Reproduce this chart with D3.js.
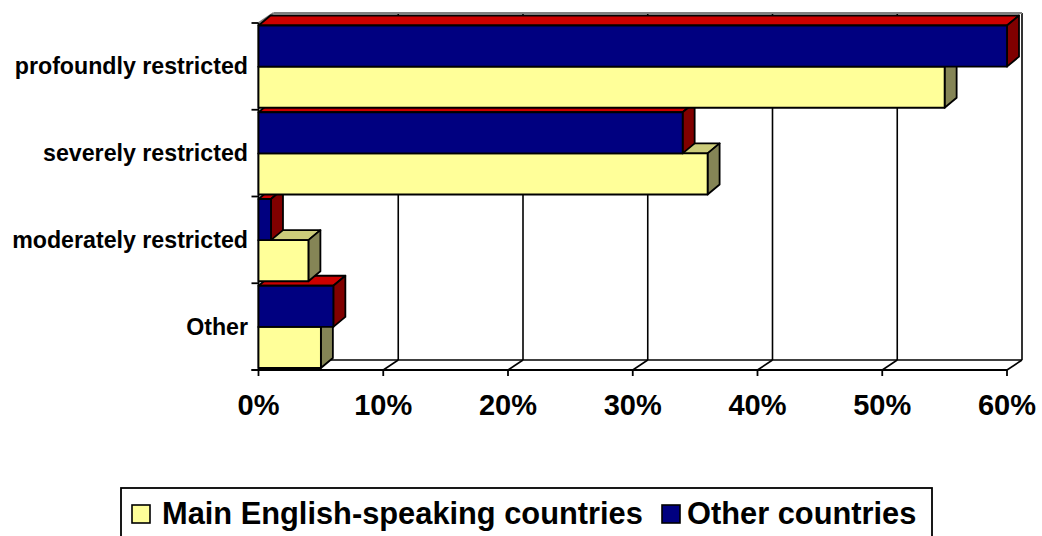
<!DOCTYPE html>
<html>
<head>
<meta charset="utf-8">
<script src="https://cdn.jsdelivr.net/npm/d3@7"></script>
<style>
  html, body { margin: 0; padding: 0; background: #fff; }
  svg { display: block; font-family: "Liberation Sans", Arial, sans-serif; font-weight: bold; }
</style>
</head>
<body>
<svg id="chart" width="1042" height="536"></svg>
<script>
// Categories, top to bottom
const categories = ["profoundly restricted", "severely restricted", "moderately restricted", "Other"];
// Share of respondents per category (fractions)
const mainEnglish = [0.55, 0.36, 0.04, 0.05];
const otherCountries = [0.60, 0.34, 0.01, 0.06];
const seriesNames = ["Other countries", "Main English-speaking countries"];
const xTicks = [0, 0.1, 0.2, 0.3, 0.4, 0.5, 0.6];

(function () {
const svg = d3.select("#chart");

// Front plane of the 3D plot box
const plotLeft = 258.5, plotRight = 1007, plotTop = 23, plotBottom = 370;
// Wall depth offset and bar depth offset
const wdx = 15, wdy = -10;
const bdx = 12, bdy = -10;

const x = d3.scaleLinear().domain([0, 0.6]).range([plotLeft, plotRight]);
const y = d3.scaleBand().domain(categories).range([plotTop, plotBottom]);

const series = [
  { name: seriesNames[0], values: otherCountries, front: "#000080", topFace: "#cc0000", side: "#800000" },
  { name: seriesNames[1], values: mainEnglish, front: "#ffff99", topFace: "#cccc7a", side: "#858556" }
];
const inner = d3.scaleBand().domain(seriesNames).range([2.5, y.bandwidth() - 2]);

const line = (g, pts, color, w) =>
  g.append("path").attr("d", d3.line()(pts)).attr("fill", "none")
   .attr("stroke", color).attr("stroke-width", w);

// Walls and gridlines
const walls = svg.append("g");
const backY0 = plotTop + wdy, backY1 = plotBottom + wdy;
// back wall gridlines (including right edge)
xTicks.slice(1).forEach(t => {
  line(walls, [[x(t) + wdx, backY1], [x(t) + wdx, backY0]], "#000", 1.6);
});
// back wall top edge and side wall top
line(walls, [[plotLeft + wdx, backY0], [plotRight + wdx, backY0]], "#808080", 2);
line(walls, [[plotLeft, plotTop], [plotLeft + wdx, backY0]], "#808080", 2);
// floor
line(walls, [[plotLeft + wdx, backY1], [plotRight + wdx, backY1]], "#000", 1.6);
xTicks.forEach(t => {
  line(walls, [[x(t), plotBottom], [x(t) + wdx, backY1]], "#000", 1.6);
});
line(walls, [[plotLeft - 7, plotBottom], [plotRight, plotBottom]], "#000", 1.8);
// value axis ticks
xTicks.forEach(t => line(walls, [[x(t), plotBottom], [x(t), plotBottom + 6]], "#000", 1.8));
// category axis
line(walls, [[plotLeft, plotTop], [plotLeft, plotBottom]], "#000", 1.8);
y.domain().forEach(c => line(walls, [[plotLeft - 7, y(c)], [plotLeft, y(c)]], "#000", 1.8));
line(walls, [[plotLeft - 7, plotBottom], [plotLeft, plotBottom]], "#000", 1.8);

// Bars, drawn from the bottom of the plot upwards so upper bars overlap lower top faces
const bars = [];
categories.forEach((c, i) => {
  series.forEach(s => {
    const y0 = y(c) + inner(s.name);
    bars.push({ c, s, v: s.values[i], y0, y1: y0 + inner.bandwidth() });
  });
});
bars.sort((a, b) => b.y0 - a.y0);

const barG = svg.append("g").attr("stroke", "#000").attr("stroke-width", 1.8).attr("stroke-linejoin", "round");
bars.forEach(b => {
  const x0 = x(0), x1 = x(b.v);
  const g = barG.append("g");
  // top face
  g.append("path").attr("fill", b.s.topFace)
    .attr("d", d3.line()([[x0, b.y0], [x0 + bdx, b.y0 + bdy], [x1 + bdx, b.y0 + bdy], [x1, b.y0]]) + "Z");
  // side face
  g.append("path").attr("fill", b.s.side)
    .attr("d", d3.line()([[x1, b.y0], [x1 + bdx, b.y0 + bdy], [x1 + bdx, b.y1 + bdy], [x1, b.y1]]) + "Z");
  // front face
  g.append("rect").attr("fill", b.s.front)
    .attr("x", x0).attr("y", b.y0).attr("width", x1 - x0).attr("height", b.y1 - b.y0);
});

// Category labels
svg.append("g").selectAll("text").data(categories).join("text")
  .attr("x", 248).attr("y", c => y(c) + y.bandwidth() / 2 + 8)
  .attr("text-anchor", "end").attr("font-size", 23.2).attr("fill", "#000")
  .text(c => c);

// Value tick labels
svg.append("g").selectAll("text").data(xTicks).join("text")
  .attr("x", t => x(t)).attr("y", 415)
  .attr("text-anchor", "middle").attr("font-size", 29).attr("fill", "#000")
  .text(d3.format(".0%"));

// Legend
const legend = svg.append("g");
legend.append("rect").attr("x", 121).attr("y", 488).attr("width", 811).attr("height", 60)
  .attr("fill", "#fff").attr("stroke", "#000").attr("stroke-width", 1.8);
const legendItems = [
  { name: seriesNames[1], color: "#ffff99", sx: 132, tx: 162 },
  { name: seriesNames[0], color: "#000080", sx: 662, tx: 687 }
];
legendItems.forEach(d => {
  legend.append("rect").attr("x", d.sx).attr("y", 505).attr("width", 18).attr("height", 18)
    .attr("fill", d.color).attr("stroke", "#000").attr("stroke-width", 1.6);
  legend.append("text").attr("x", d.tx).attr("y", 524).attr("font-size", 30.8).attr("fill", "#000")
    .text(d.name);
});
})();
</script>
</body>
</html>
